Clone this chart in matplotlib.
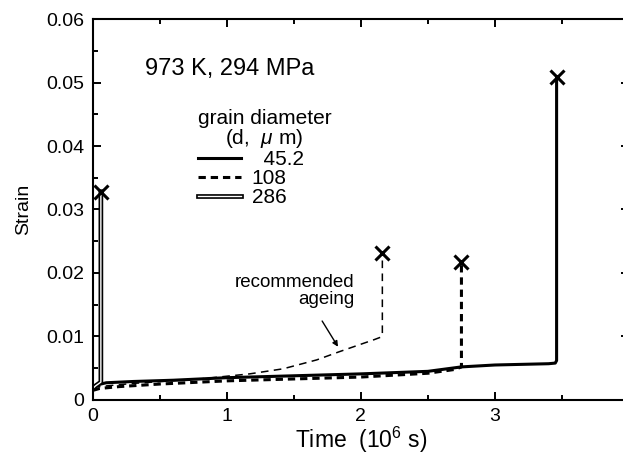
import matplotlib
matplotlib.use("Agg")
import matplotlib.pyplot as plt
import matplotlib.patheffects as pe
from matplotlib.lines import Line2D

plt.rcParams['font.family'] = ['Liberation Sans', 'DejaVu Sans']
plt.rcParams['mathtext.fontset'] = 'custom'
plt.rcParams['mathtext.rm'] = 'Liberation Sans'
plt.rcParams['mathtext.it'] = 'Liberation Sans:italic'

# grain diameter 45.2 um
t_452 = [0, 0.02, 0.1, 0.3, 0.6, 1.0, 1.5, 2.0, 2.5, 2.75, 3.0, 3.4, 3.45, 3.46, 3.46]
e_452 = [0.0018, 0.0023, 0.0027, 0.0029, 0.0031, 0.0035, 0.0038, 0.0041, 0.0045, 0.0052, 0.0055, 0.0057, 0.0058, 0.0062, 0.0509]

# grain diameter 108 um
t_108 = [0, 0.05, 0.2, 0.5, 1.0, 1.5, 2.0, 2.5, 2.7, 2.75, 2.75]
e_108 = [0.0015, 0.0018, 0.0021, 0.0025, 0.003, 0.0033, 0.0036, 0.0042, 0.0048, 0.0052, 0.0217]

# 108 um, recommended ageing
t_age = [0, 0.3, 0.8, 1.17, 1.42, 1.67, 1.84, 1.99, 2.1, 2.15, 2.16, 2.16]
e_age = [0.002, 0.0026, 0.0033, 0.0041, 0.0049, 0.0063, 0.0076, 0.0087, 0.0095, 0.0099, 0.0102, 0.0231]

# grain diameter 286 um
t_286 = [0, 0.02, 0.04, 0.06, 0.06]
e_286 = [0.0018, 0.0022, 0.0025, 0.0028, 0.0328]

fig = plt.figure(figsize=(6.23, 4.65), dpi=100)
ax = fig.add_axes([0.149, 0.140, 0.8606, 0.819])

ax.plot(t_452, e_452, color='black', lw=2.2, solid_joinstyle='round')
ax.plot(t_108, e_108, color='black', lw=2.2, ls=(0, (2.4, 1.6)))
ax.plot(t_age, e_age, color='black', lw=1.1, ls=(0, (5, 3.5)))
l286, = ax.plot(t_286, e_286, color='white', lw=1.0,
                path_effects=[pe.Stroke(linewidth=3.4, foreground='black'), pe.Normal()])

# rupture points
ax.plot([t_452[-1], t_108[-1], t_age[-1], t_286[-1]],
        [e_452[-1], e_108[-1], e_age[-1], e_286[-1]],
        ls='none', marker='x', ms=10, mew=2.2, color='black')

ax.set_xlim(0, 4)
ax.set_ylim(0, 0.06)
ax.set_xticks([0, 1, 2, 3, 4])
ax.set_xticks([0.5, 1.5, 2.5, 3.5], minor=True)
ax.set_yticks([0, 0.01, 0.02, 0.03, 0.04, 0.05, 0.06])
ax.set_yticklabels(['0', '0.01', '0.02', '0.03', '0.04', '0.05', '0.06'])
ax.set_yticks([0.005, 0.015, 0.025, 0.035, 0.045, 0.055], minor=True)
ax.tick_params(which='both', direction='in', top=True, right=True, width=1.4, labelsize=14)
ax.tick_params(which='major', length=6, pad=6)
ax.tick_params(which='minor', length=3.5)
for s in ax.spines.values():
    s.set_linewidth(1.5)

ax.set_xlabel('Time  (10$^6$ s)', fontsize=16.5, labelpad=0)
ax.set_ylabel('Strain', fontsize=14, labelpad=10)

ax.text(0.39, 0.0522, '973 K, 294 MPa', fontsize=17, va='center')
ax.text(1.955, 0.0172, 'recommended\nageing', fontsize=13.5, ha='right', va='center',
        multialignment='right', linespacing=1.0)
ax.annotate('', xy=(1.84, 0.008), xytext=(1.7, 0.0128),
            arrowprops=dict(arrowstyle='-|>', color='black', lw=1.0, mutation_scale=8))

handles = [Line2D([], [], color='black', lw=2.2),
           Line2D([], [], color='black', lw=2.2, ls=(0, (2.4, 1.6))),
           l286]
leg = ax.legend(handles, ['  45.2', '108', '286'], title='grain diameter\n(d,  $\\mu$ m)',
                loc='upper left', bbox_to_anchor=(0.176, 0.792), frameon=False,
                fontsize=15, title_fontsize=15, handlelength=2.1, handletextpad=0.5,
                labelspacing=0.0, borderpad=0,
                alignment='left')
leg.get_title().set_multialignment('center')
leg.get_title().set_linespacing(0.95)

fig.savefig('out.png', dpi=100)
